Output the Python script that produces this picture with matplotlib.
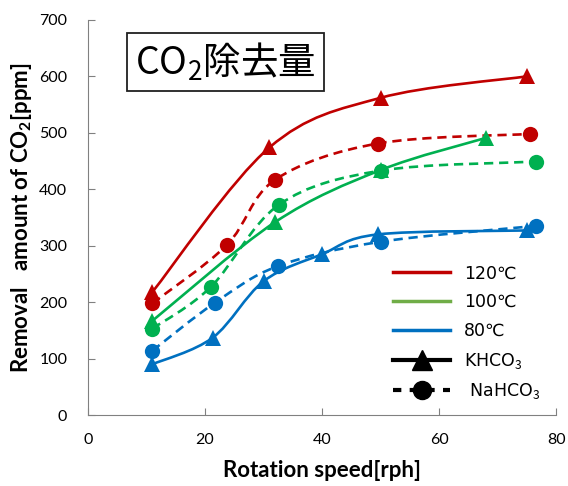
import numpy as np
import matplotlib
matplotlib.use("Agg")
import matplotlib.pyplot as plt
from matplotlib.path import Path
from matplotlib.patches import PathPatch
from matplotlib.lines import Line2D

plt.rcParams['font.family'] = ['Lato', 'DejaVu Sans']
plt.rcParams['mathtext.fontset'] = 'custom'
plt.rcParams['mathtext.rm'] = 'Noto Sans CJK JP'
plt.rcParams['mathtext.bf'] = 'Lato:bold'
plt.rcParams['mathtext.default'] = 'rm'

# Rotation speed [rph] and removed CO2 [ppm]
k120_x = [11, 31, 50, 75]
k120_y = [218, 474, 562, 600]
na120_x = [11, 23.7, 32, 49.5, 75.5]
na120_y = [198, 301, 417, 481, 498]
k100_x = [11, 32, 50, 68]
k100_y = [167, 342, 434, 491]
na100_x = [11, 21, 32.7, 50, 76.5]
na100_y = [153, 227, 373, 433, 449]
k80_x = [11, 21.3, 30, 40, 49.5, 75]
k80_y = [90, 137, 237, 285, 320, 327]
na80_x = [11, 21.7, 32.5, 50, 76.5]
na80_y = [114, 199, 264, 307, 335]

RED, GREEN, BLUE = '#C00000', '#00B050', '#0070C0'
series = [
    (k120_x, k120_y, RED, '-', '^'),
    (na120_x, na120_y, RED, '--', 'o'),
    (k100_x, k100_y, GREEN, '-', '^'),
    (na100_x, na100_y, GREEN, '--', 'o'),
    (k80_x, k80_y, BLUE, '-', '^'),
    (na80_x, na80_y, BLUE, '--', 'o'),
]


def smooth_path(xs, ys, t=1/6):
    # Excel-like smoothed line: cubic Bezier segments (Catmull-Rom control points)
    p = np.column_stack([xs, ys]).astype(float)
    n = len(p)
    verts = [p[0]]
    codes = [Path.MOVETO]
    for i in range(n - 1):
        p0 = p[i - 1] if i > 0 else p[i]
        p3 = p[i + 2] if i + 2 < n else p[i + 1]
        c1 = p[i] + (p[i + 1] - p0) * t
        c2 = p[i + 1] - (p3 - p[i]) * t
        verts += [c1, c2, p[i + 1]]
        codes += [Path.CURVE4] * 3
    return Path(verts, codes)


fig = plt.figure(figsize=(5.68, 4.86), dpi=100)
ax = fig.add_axes([0.155, 0.146, 0.824, 0.813])

for xs, ys, c, ls, m in series:
    dash = (0, (3.5, 2.2)) if ls == '--' else '-'
    ax.add_patch(PathPatch(smooth_path(xs, ys), fill=False, edgecolor=c,
                           lw=1.9, linestyle=dash, capstyle='butt'))
    ax.plot(xs, ys, linestyle='none', marker=m, color=c, markersize=11.5 if m == '^' else 11,
            markeredgewidth=0, zorder=3)

ax.set_xlim(0, 80)
ax.set_ylim(0, 700)
ax.set_xticks([0, 20, 40, 60, 80])
ax.set_yticks(range(0, 701, 100))
for s in ['top', 'right']:
    ax.spines[s].set_visible(False)
for s in ['left', 'bottom']:
    ax.spines[s].set_color('#808080')
ax.tick_params(direction='in', length=5, color='#808080', labelsize=11.5)
ax.tick_params(axis='y', pad=15)
ax.tick_params(axis='x', pad=13)

ax.set_xlabel('Rotation speed[rph]', fontsize=16, fontweight='bold', labelpad=9)
ax.set_ylabel(r'Removal   amount of CO$_{\mathbf{2}}$[ppm]', fontsize=16, fontweight='bold', labelpad=4)

ax.text(0.1, 0.894, 'CO$_2$除去量', transform=ax.transAxes, fontsize=27,
        family=['Noto Sans CJK JP', 'DejaVu Sans'], va='center', ha='left',
        bbox=dict(boxstyle='square,pad=0.22', fc='white', ec='#202020', lw=1.3))

handles = [
    Line2D([], [], color=RED, lw=2.5),
    Line2D([], [], color='#70AD47', lw=2.5),
    Line2D([], [], color=BLUE, lw=2.5),
    Line2D([], [], color='black', lw=3, marker='^', markersize=14),
    Line2D([], [], color='black', lw=3, linestyle=(0, (2, 2)), marker='o', markersize=13),
]
labels = ['120℃', '100℃', '80℃', 'KHCO$_3$', ' NaHCO$_3$']
leg = ax.legend(handles, labels, loc='lower right', bbox_to_anchor=(1.0, -0.005),
                frameon=False, handlelength=3.3, handletextpad=0.8, labelspacing=0.62,
                prop={'family': ['DejaVu Sans', 'Noto Sans CJK JP'], 'size': 12.5})

fig.savefig('out.png', dpi=100)
